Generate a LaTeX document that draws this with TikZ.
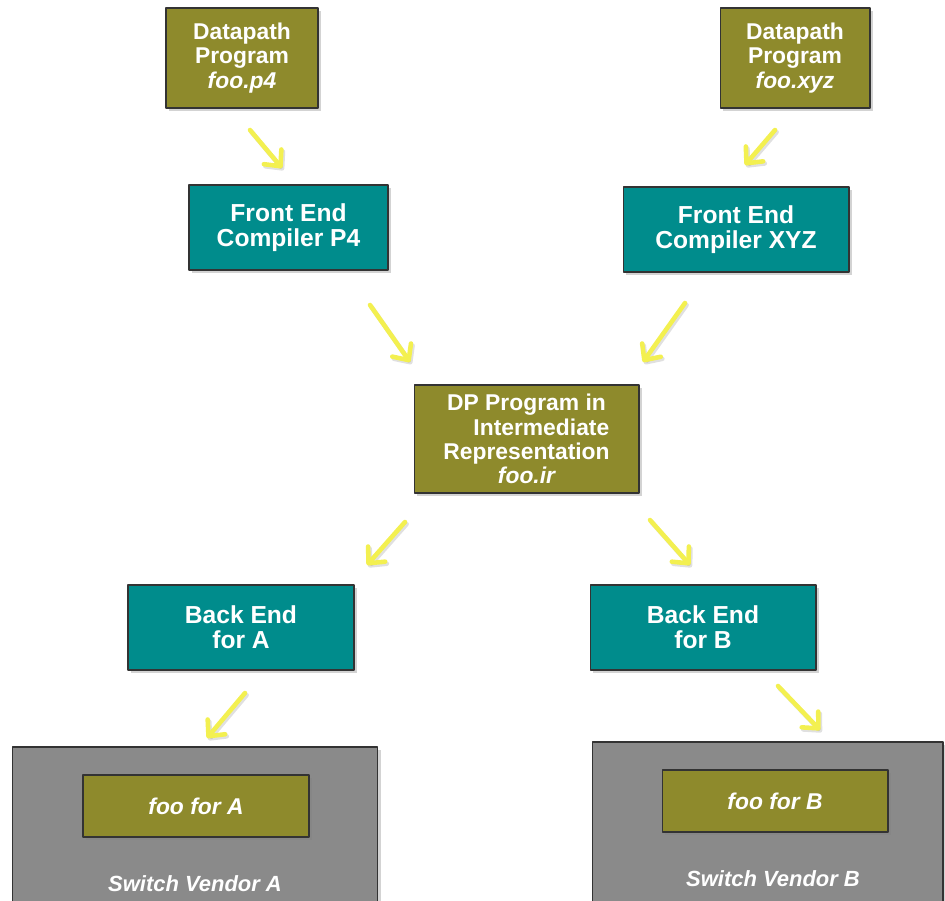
\documentclass[tikz,border=0pt]{standalone}
\usepackage{fontspec}
\setmainfont{Liberation Sans}
\usepackage{tikz}
\usetikzlibrary{arrows.meta, shadows, positioning}

\definecolor{olivebox}{HTML}{8E8A2C}
\definecolor{tealbox}{HTML}{008C8C}
\definecolor{vendorgray}{HTML}{8A8A8A}
\definecolor{flowyellow}{HTML}{F3F050}

\begin{document}
\begin{tikzpicture}[x=0.02cm, y=-0.02cm, line join=round, line cap=round,
    boxbase/.style={draw=black!80, line width=0.6pt, text=white, align=center,
        font=\bfseries, inner sep=2pt,
        drop shadow={opacity=0.35, shadow xshift=1.5pt, shadow yshift=-1.5pt}},
    olive/.style={boxbase, fill=olivebox, font=\bfseries\fontsize{13}{13.8}\selectfont},
    teal/.style={boxbase, fill=tealbox, font=\bfseries\fontsize{14}{14.3}\selectfont},
    vendor/.style={boxbase, fill=vendorgray},
    flow/.style={draw=flowyellow, line width=2.6pt,
        -{Straight Barb[length=7pt, width=13pt, round]},
        preaction={draw=black, line width=2.6pt, opacity=0.12,
            transform canvas={xshift=0.9pt, yshift=-1.2pt}}}]

        % =========================
        % KHUNG
        % =========================
        \useasboundingbox (0,0) rectangle (945,901);

        % =========================
        % CHƯƠNG TRÌNH NGUỒN
        % =========================
        \node[olive, minimum width=3.04cm, minimum height=2cm] (dpfour) at (242,58)
            {Datapath\\Program\\\itshape foo.p4};
        \node[olive, minimum width=3cm, minimum height=2cm] (dpxyz) at (795,58)
            {Datapath\\Program\\\itshape foo.xyz};

        % =========================
        % FRONT END
        % =========================
        \node[teal, minimum width=3.98cm, minimum height=1.7cm] (fefour) at (288.5,227.5)
            {Front End\\Compiler P4};
        \node[teal, minimum width=4.52cm, minimum height=1.7cm] (fexyz) at (736,229.5)
            {Front End\\Compiler XYZ};

        % =========================
        % BIỂU DIỄN TRUNG GIAN
        % =========================
        \node[olive, minimum width=4.5cm, minimum height=2.16cm] (irprog) at (526.5,439)
            {DP Program in\\\hspace*{1.3em}Intermediate\\Representation\\\itshape foo.ir};

        % =========================
        % BACK END
        % =========================
        \node[teal, minimum width=4.52cm, minimum height=1.7cm] (bea) at (241,627.5)
            {Back End\\for A};
        \node[teal, minimum width=4.52cm, minimum height=1.7cm] (beb) at (703,627.5)
            {Back End\\for B};

        % =========================
        % SWITCH VENDOR
        % =========================
        \node[vendor, minimum width=7.32cm, minimum height=3.46cm] (venda) at (195,833.5) {};
        \node[vendor, minimum width=7.02cm, minimum height=3.56cm] (vendb) at (767.5,831) {};

        \node[olive, font=\bfseries\itshape\fontsize{13}{13.8}\selectfont,
            minimum width=4.52cm, minimum height=1.24cm] (fooa) at (196,806) {foo for A};
        \node[olive, font=\bfseries\itshape\fontsize{13}{13.8}\selectfont,
            minimum width=4.52cm, minimum height=1.24cm] (foob) at (775,801) {foo for B};

        \node[text=white, font=\bfseries\itshape\fontsize{12.5}{13}\selectfont] (labela)
            at (195,884) {Switch Vendor A};
        \node[text=white, font=\bfseries\itshape\fontsize{12.5}{13}\selectfont] (labelb)
            at (773,879) {Switch Vendor B};

        % =========================
        % MŨI TÊN
        % =========================
        \coordinate (a1s) at (250,130);  \coordinate (a1e) at (282,168);
        \coordinate (a2s) at (775,130);  \coordinate (a2e) at (745,165);
        \coordinate (a3s) at (370,305);  \coordinate (a3e) at (410,362);
        \coordinate (a4s) at (685,303);  \coordinate (a4e) at (643,362);
        \coordinate (a5s) at (405,522);  \coordinate (a5e) at (367,565);
        \coordinate (a6s) at (650,520);  \coordinate (a6e) at (690,565);
        \coordinate (a7s) at (245,693);  \coordinate (a7e) at (207,738);
        \coordinate (a8s) at (778,686);  \coordinate (a8e) at (820,730);

        \foreach \k in {1,...,8}
            \draw[flow] (a\k s) -- (a\k e);

    \end{tikzpicture}
\end{document}
